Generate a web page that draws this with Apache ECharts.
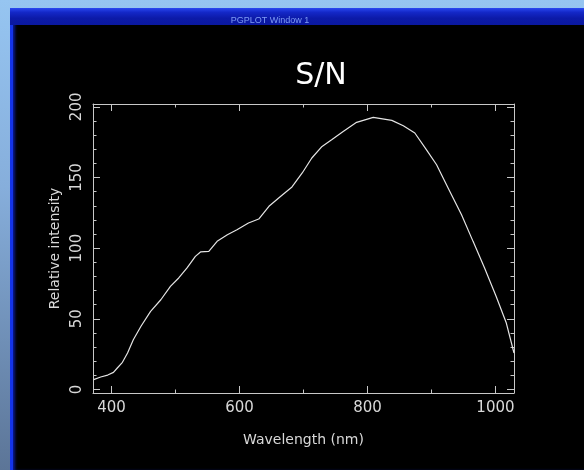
<!DOCTYPE html>
<html>
<head>
<meta charset="utf-8">
<script src="https://cdn.jsdelivr.net/npm/echarts@6/dist/echarts.min.js"></script>
<style>
html,body{margin:0;padding:0;}
body{width:584px;height:470px;position:relative;overflow:hidden;background:linear-gradient(180deg,#96c5f1 0%,#86aedb 40%,#5c7597 100%);}
#frame{position:absolute;left:10px;top:8px;width:574px;height:462px;background:#000;border-left:3px solid #1434ec;box-sizing:border-box;box-shadow:inset 3px 0 3px -1px #0a1a90;}
#bar{position:absolute;left:10px;top:8px;width:574px;height:17px;background:linear-gradient(180deg,#2a48f0 0%,#1428c8 25%,#0c1aa8 60%,#0a18a0 100%);}
#chart{position:absolute;left:0;top:0;width:584px;height:470px;}
</style>
</head>
<body>
<div id="frame"></div>
<div id="bar"></div>
<div id="chart"></div>
<script>
// Data
const wavelength = [372,383,394,403,409,417,425,434,446,461,477,492,505,518,531,539,552,565,581,596,614,630,646,664,682,698,713,729,744,762,783,809,838,856,874,892,908,926,947,965,983,1001,1017,1029];
const intensity  = [7,8.8,10.2,12.1,15.2,19.2,25.8,35.2,44.7,55.3,63.5,73,78.9,86,94.2,97.3,97.7,104.8,109.5,113,117.8,120.6,129.6,136.6,143.3,153.2,163.8,172,176.7,182.6,189,192.5,190.4,186.6,181.5,169.7,159,142.6,123.7,104.8,86,65.9,47,25.8];
const xMajorTicks = [400,600,800,1000];
const xMinorTicks = [400,500,600,700,800,900,1000];
const yMajorTicks = [0,50,100,150,200];
const yMinorTicks = [0,10,20,30,40,50,60,70,80,90,100,110,120,130,140,150,160,170,180,190,200];
const xRange = [371,1029];
const yRange = [-2.5,202];

const lineColor = '#c8c8c8';
const textColor = '#d8d8d8';
const fontFam = 'DejaVu Sans';

function xAx(pos, ticks, len, labels, line) {
  return {
    type:'value', position:pos, min:xRange[0], max:xRange[1],
    axisLine:{show:line, onZero:false, lineStyle:{color:lineColor,width:1}},
    axisTick:{show:true, inside:true, length:len, customValues:ticks, lineStyle:{color:lineColor,width:1}},
    axisLabel:{show:labels, customValues:xMajorTicks, color:textColor, fontFamily:fontFam, fontSize:15, margin:8,
      formatter:function(v){return String(v);}},
    splitLine:{show:false}
  };
}
function yAx(pos, ticks, len, labels, line) {
  return {
    type:'value', position:pos, min:yRange[0], max:yRange[1],
    axisLine:{show:line, onZero:false, lineStyle:{color:lineColor,width:1}},
    axisTick:{show:true, inside:true, length:len, customValues:ticks, lineStyle:{color:lineColor,width:1}},
    axisLabel:{show:labels, customValues:yMajorTicks, rotate:90, color:textColor, fontFamily:fontFam, fontSize:15, margin:8,
      formatter:function(v){return String(v);}},
    splitLine:{show:false}
  };
}

const xa0 = xAx('bottom', xMajorTicks, 7, true, true);
xa0.name = 'Wavelength (nm)';
xa0.nameLocation = 'middle';
xa0.nameGap = 40;
xa0.nameTextStyle = {color:textColor, fontFamily:fontFam, fontSize:14};
const ya0 = yAx('left', yMajorTicks, 7, true, true);
ya0.name = 'Relative intensity';
ya0.nameLocation = 'middle';
ya0.nameGap = 30;
ya0.nameTextStyle = {color:textColor, fontFamily:fontFam, fontSize:14};

const chart = echarts.init(document.getElementById('chart'), null, {renderer:'canvas'});
chart.setOption({
  backgroundColor:'transparent',
  animation:false,
  title:[
    {text:'S/N', left:316, top:56, textAlign:'center',
     textStyle:{color:'#ffffff', fontFamily:fontFam, fontSize:30, fontWeight:'normal'}},
    {text:'PGPLOT Window 1', left:265, top:11, textAlign:'center',
     textStyle:{color:'#7f9cf6', fontFamily:'Liberation Sans', fontSize:9, fontWeight:'normal'}}
  ],
  grid:{left:93, right:70, top:104, bottom:77, containLabel:false},
  xAxis:[
    xa0,
    xAx('bottom', xMinorTicks, 3.5, false, false),
    xAx('top', xMajorTicks, 7, false, true),
    xAx('top', xMinorTicks, 3.5, false, false)
  ],
  yAxis:[
    ya0,
    yAx('left', yMinorTicks, 3.5, false, false),
    yAx('right', yMajorTicks, 7, false, true),
    yAx('right', yMinorTicks, 3.5, false, false)
  ],
  series:[{
    type:'line', xAxisIndex:0, yAxisIndex:0,
    data: wavelength.map((w,i)=>[w,intensity[i]]),
    showSymbol:false, symbol:'none', smooth:false,
    lineStyle:{color:'#e4e4e4', width:1.2}
  }]
});
</script>
</body>
</html>
